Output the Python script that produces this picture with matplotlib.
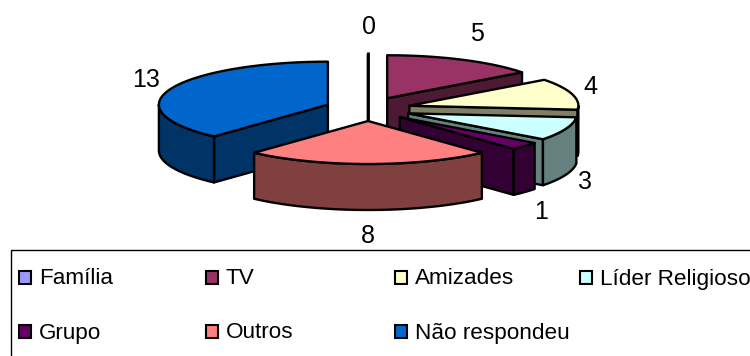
import numpy as np
import matplotlib
matplotlib.use("Agg")
import matplotlib.pyplot as plt
from matplotlib.patches import Polygon, Rectangle

plt.rcParams['font.family'] = ['Liberation Sans', 'DejaVu Sans']

categories = ["Família", "TV", "Amizades", "Líder Religioso", "Grupo", "Outros", "Não respondeu"]
values = [0, 5, 4, 3, 1, 8, 13]
top_colors = ["#9999FF", "#993366", "#FFFFCC", "#CCFFFF", "#660066", "#FF8080", "#0066CC"]
side_colors = ["#4D4D80", "#4D1A33", "#808066", "#668080", "#330033", "#804040", "#003366"]

# layout (pixels)
CX, CY = 368, 109
RX, RY = 169, 43
EX, EY = 43, 12
DEPTH = 46
LW = 1.7
draw_order = [0, 1, 6, 2, 3, 4, 5]
label_pos = [(369, 27), (477, 34), (590, 87), (585, 182), (541, 212), (368, 236), (146, 80)]
legend_x = [19, 206, 395, 580]
legend_y = [277, 331]
legend_text_y = [279, 333]

fig = plt.figure(figsize=(7.5, 3.56), dpi=100)
ax = fig.add_axes([0, 0, 1, 1])
ax.set_xlim(0, 750)
ax.set_ylim(356, 0)
ax.axis("off")

fractions = np.array(values) / sum(values)
ends = np.cumsum(fractions) * 360
starts = ends - fractions * 360


def pt(c, a):
    r = np.radians(a)
    return np.array([c[0] + RX * np.sin(r), c[1] - RY * np.cos(r)])


def face(points, color, z):
    ax.add_patch(Polygon(points, closed=True, facecolor=color, edgecolor="black",
                         linewidth=LW, joinstyle="round", zorder=z))


def extrude(p0, p1, color, z):
    down = np.array([0, DEPTH])
    face([p0, p1, p1 + down, p0 + down], color, z)


for z, i in enumerate(draw_order):
    a0, a1 = starts[i], ends[i]
    mid = (a0 + a1) / 2
    r = np.radians(mid)
    c = np.array([CX + EX * np.sin(r), CY - EY * np.cos(r)])
    base = 10 + z * 10
    side = side_colors[i]
    apex = np.array(c, dtype=float)
    if 0 <= a1 <= 180:
        extrude(apex, pt(c, a1), side, base)
    if 180 <= a0 < 360:
        extrude(apex, pt(c, a0), side, base)
    lo, hi = max(a0, 90), min(a1, 270)
    if hi > lo:
        arc = [pt(c, a) for a in np.linspace(lo, hi, 60)]
        down = np.array([0, DEPTH])
        face(arc + [p + down for p in arc[::-1]], side, base + 1)
    if a1 > a0:
        rim = [pt(c, a) for a in np.linspace(a0, a1, 80)]
        face([apex] + rim, top_colors[i], base + 2)
    else:
        p = pt(c, a0)
        ax.plot([p[0], p[0]], [p[1] - 2, p[1] + DEPTH + RY], color="black",
                lw=2.0, zorder=base, solid_capstyle="butt")

for v, (x, y) in zip(values, label_pos):
    ax.text(x, y, str(v), ha="center", va="center", fontsize=18, color="black", zorder=200)

# legend
ax.add_patch(Rectangle((10.5, 249.5), 760, 120, facecolor="white", edgecolor="black",
                       linewidth=1.0, zorder=150))
for k, name in enumerate(categories):
    row, col = k // 4, k % 4
    x = legend_x[col]
    ax.add_patch(Rectangle((x, legend_y[row] - 6), 12, 13, facecolor=top_colors[k], edgecolor="black",
                           linewidth=1.5, zorder=160))
    ax.text(x + 20, legend_text_y[row], name, ha="left", va="center", fontsize=16.2,
            color="black", zorder=160)

fig.savefig("out.png", dpi=100)
